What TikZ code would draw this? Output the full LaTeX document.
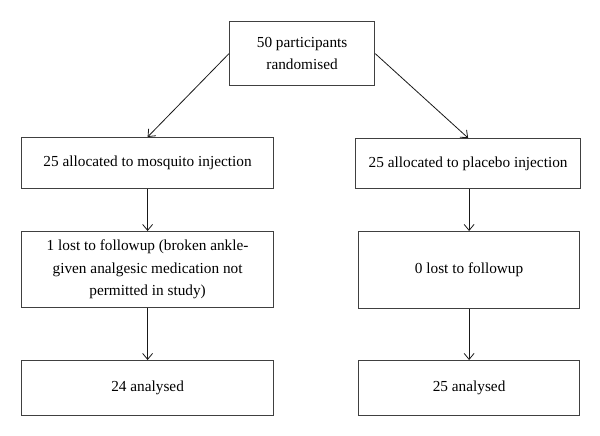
\documentclass[tikz,border=0pt]{standalone}
\usepackage{fontspec}
\setmainfont{Liberation Serif}
\usetikzlibrary{arrows.meta}
\begin{document}
\begin{tikzpicture}[x=1pt,y=-1pt,
  box/.style={draw=black!75, line width=1.2pt, align=center, inner sep=0pt,
    anchor=north west, font=\fontsize{15.3}{22.5}\selectfont},
  conn/.style={draw=black!90, line width=0.8pt, -{Straight Barb[length=6pt,width=10pt]}}]
\useasboundingbox (0,0) rectangle (600,436);
\node[box, minimum width=145pt, minimum height=64pt] (top) at (229,21) {50 participants\\randomised};
\node[box, minimum width=252pt, minimum height=51pt] (l1) at (21,137) {25 allocated to mosquito injection};
\node[box, minimum width=252pt, minimum height=76pt] (l2) at (21,231) {1 lost to followup (broken ankle-\\given analgesic medication not\\permitted in study)};
\node[box, minimum width=252pt, minimum height=55pt] (l3) at (21,360) {24 analysed};
\node[box, minimum width=225pt, minimum height=50pt] (r1) at (355,138) {25 allocated to placebo injection};
\node[box, minimum width=221pt, minimum height=77pt] (r2) at (358,231) {0 lost to followup};
\node[box, minimum width=221pt, minimum height=55pt] (r3) at (358,360) {25 analysed};
\draw[conn] (top.west) -- (l1.north);
\draw[conn] (top.east) -- (r1.north);
\draw[conn] (l1.south) -- (l2.north);
\draw[conn] (l2.south) -- (l3.north);
\draw[conn] (r2.north |- r1.south) -- (r2.north);
\draw[conn] (r2.south) -- (r3.north);
\end{tikzpicture}
\end{document}
